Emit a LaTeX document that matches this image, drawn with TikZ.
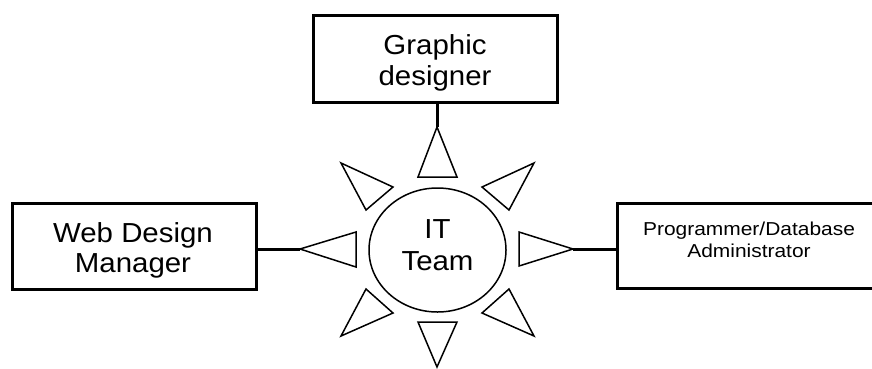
\documentclass[tikz,border=0pt]{standalone}
\usepackage{fontspec}
\setmainfont{Liberation Sans}
\newfontfamily\bigf[FakeStretch=1.07]{Liberation Sans}
\newfontfamily\smallf[FakeStretch=1.12]{Liberation Sans}
\usetikzlibrary{shapes.geometric}
\begin{document}
\begin{tikzpicture}[x=1pt,y=-1pt,
  box/.style={draw, line width=3pt, inner sep=0pt},
  ray/.style={draw, line width=1.5pt, line join=miter},
  conn/.style={line width=3pt},
  bigtxt/.style={font=\bigf\fontsize{27.5pt}{30pt}\selectfont, anchor=base, inner sep=0pt},
  smalltxt/.style={font=\smallf\fontsize{18.7pt}{22pt}\selectfont, anchor=base, inner sep=0pt}]
\useasboundingbox (0,0) rectangle (872,368);
\clip (0,0) rectangle (872,368);
% boxes
\node[box, minimum width=244pt, minimum height=87pt] (gd) at (435,58.5) {};
\node[box, minimum width=244pt, minimum height=86pt] (web) at (134,246) {};
\node[box, minimum width=264pt, minimum height=85pt] (pda) at (749,245.5) {};
% ellipse
\node[ellipse, draw, line width=1.5pt, minimum width=137pt, minimum height=124pt, inner sep=0pt] (it) at (437.5,250) {};
% texts
\node[bigtxt] (gd1) at (435,54) {Graphic};
\node[bigtxt] (gd2) at (435,85.5) {designer};
\node[bigtxt] (web1) at (133,242) {Web Design};
\node[bigtxt] (web2) at (133,272) {Manager};
\node[bigtxt] (it1) at (437.5,238) {IT};
\node[bigtxt] (it2) at (437.5,270) {Team};
\node[smalltxt] (pda1) at (749,235) {Programmer/Database};
\node[smalltxt] (pda2) at (749,257) {Administrator};
% rays
\coordinate (tapex) at (437,127);
\coordinate (lapex) at (300,249);
\coordinate (rapex) at (573,249);
\draw[ray] (tapex) -- (418,177) -- (457,177) -- cycle;
\draw[ray] (437,367) -- (418,322) -- (457,322) -- cycle;
\draw[ray] (lapex) -- (356,232) -- (356,267) -- cycle;
\draw[ray] (rapex) -- (519,232) -- (519,266) -- cycle;
\draw[ray] (341,163) -- (393,187) -- (366,210) -- cycle;
\draw[ray] (534,163) -- (482,187) -- (509,210) -- cycle;
\draw[ray] (366,289) -- (393,313) -- (341,336) -- cycle;
\draw[ray] (509,289) -- (482,313) -- (534,336) -- cycle;
% connectors
\draw[conn] (tapex |- gd.south) -- (tapex);
\draw[conn] (web.east |- lapex) -- (lapex);
\draw[conn] (pda.west |- rapex) -- (rapex);
\end{tikzpicture}
\end{document}
